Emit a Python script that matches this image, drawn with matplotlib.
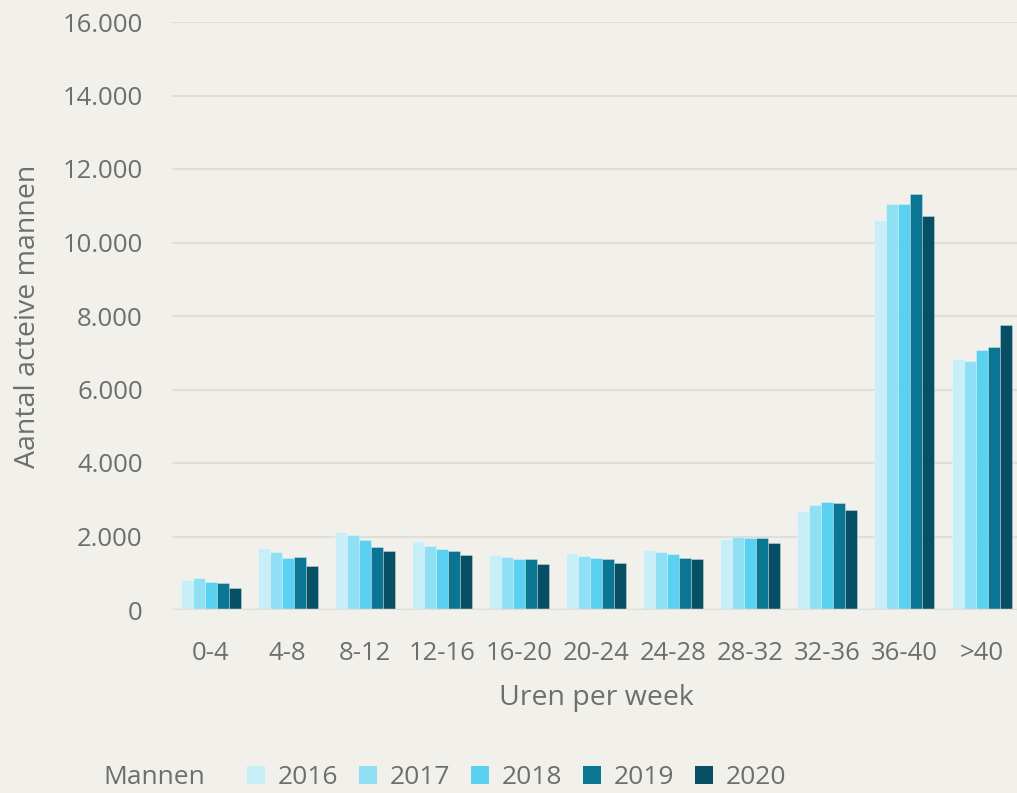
import numpy as np
import matplotlib
matplotlib.use("Agg")
import matplotlib.pyplot as plt
from matplotlib.patches import Patch

# data
categories = ["0-4", "4-8", "8-12", "12-16", "16-20", "20-24",
              "24-28", "28-32", "32-36", "36-40", ">40"]
years = ["2016", "2017", "2018", "2019", "2020"]
v2016 = [820, 1690, 2120, 1890, 1500, 1555, 1620, 1930, 2700, 10620, 6830]
v2017 = [865, 1575, 2040, 1745, 1455, 1480, 1575, 1985, 2855, 11035, 6770]
v2018 = [765, 1410, 1900, 1665, 1390, 1410, 1520, 1965, 2945, 11045, 7080]
v2019 = [740, 1445, 1725, 1610, 1385, 1375, 1420, 1965, 2920, 11310, 7155]
v2020 = [600, 1200, 1610, 1500, 1245, 1275, 1375, 1820, 2720, 10725, 7765]
series = [v2016, v2017, v2018, v2019, v2020]
colors = ["#c8eef8", "#90e0f5", "#5ad1f0", "#0b7693", "#074f65"]

bg = "#f1f0eb"
txt = "#6e6e6e"
plt.rcParams["font.family"] = ["Open Sans", "DejaVu Sans"]

fig = plt.figure(figsize=(10.17, 7.93), dpi=100, facecolor=bg)
W, H = 1017, 793
left, bottom, top = 172, 610, 22
ax = fig.add_axes([left / W, 1 - bottom / H, (W - left) / W, (bottom - top) / H])
ax.set_facecolor(bg)

step = 77.1  # pixels per category
x = np.arange(len(categories))
bw = 0.1556
for i, (vals, c) in enumerate(zip(series, colors)):
    ax.bar(x + (i - 2) * bw, vals, width=bw, color=c,
           edgecolor=(1, 1, 1, 0.35), linewidth=0.6, zorder=3)

ax.set_xlim(-0.5, -0.5 + (W - left) / step)
ax.set_ylim(0, 16000)
ax.set_yticks(np.arange(0, 16001, 2000))
ax.set_yticklabels(["0" if t == 0 else f"{t // 1000}.000" for t in range(0, 16001, 2000)])
ax.set_xticks(x)
ax.set_xticklabels(categories)
ax.grid(axis="y", color="#dfded9", linewidth=1.6, zorder=0)
ax.axhline(0, color="#dfded9", linewidth=2.5, zorder=4)
for s in ax.spines.values():
    s.set_visible(False)
ax.tick_params(length=0, labelsize=18.5, labelcolor=txt)
ax.tick_params(axis="y", pad=21)
ax.tick_params(axis="x", pad=22)

ax.set_ylabel("Aantal acteive mannen", fontsize=20.5, color=txt)
ax.yaxis.set_label_coords((42 - left) / (W - left), 0.5)
ax.set_xlabel("Uren per week", fontsize=20.5, color=txt)
ax.xaxis.set_label_coords(0.502, (bottom - 684) / (bottom - top))

fig.text(103 / W, 1 - 778 / H, "Mannen", fontsize=19, color=txt, va="center", ha="left")
handles = [Patch(facecolor=c, edgecolor="none", label=y) for c, y in zip(colors, years)]
leg = fig.legend(handles=handles, ncol=5, loc="center left",
                 bbox_to_anchor=(223 / W, 1 - 778 / H), frameon=False,
                 fontsize=19, handlelength=0.68, handleheight=0.65,
                 handletextpad=0.5, columnspacing=0.77)
for t in leg.get_texts():
    t.set_color(txt)

fig.savefig("out.png", dpi=100, facecolor=bg)
